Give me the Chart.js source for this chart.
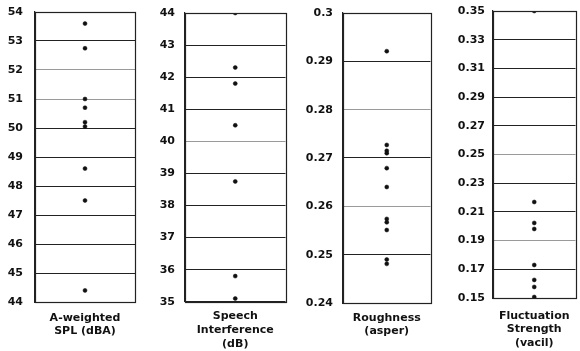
<!DOCTYPE html>
<html>
<head>
<meta charset="utf-8">
<script src="https://cdn.jsdelivr.net/npm/chart.js@4/dist/chart.umd.min.js"></script>
<style>
  html, body { margin: 0; padding: 0; background: #fff; }
  body { width: 580px; height: 351px; position: relative; overflow: hidden; }
  .panel { position: absolute; top: 0; height: 351px; }
</style>
</head>
<body>
<div class="panel" style="left:0px;width:140px"><canvas id="c1"></canvas></div>
<div class="panel" style="left:140px;width:150px"><canvas id="c2"></canvas></div>
<div class="panel" style="left:290px;width:145px"><canvas id="c3"></canvas></div>
<div class="panel" style="left:435px;width:145px"><canvas id="c4"></canvas></div>
<script>
// ---- data ----
const splValues = [53.6, 52.75, 51.0, 50.7, 50.2, 50.05, 48.6, 47.5, 44.4];
const speechValues = [44.0, 42.3, 41.8, 40.5, 38.75, 35.8, 35.1];
const roughnessValues = [0.2921, 0.2727, 0.2715, 0.2710, 0.2679, 0.2640, 0.2574, 0.2567, 0.2551, 0.2490, 0.2481];
const fluctuationValues = [0.35, 0.2169, 0.2023, 0.1981, 0.173, 0.1626, 0.1577, 0.1507];

const splTicks = [44, 45, 46, 47, 48, 49, 50, 51, 52, 53, 54];
const splTickLabels = ['44', '45', '46', '47', '48', '49', '50', '51', '52', '53', '54'];
const speechTicks = [35, 36, 37, 38, 39, 40, 41, 42, 43, 44];
const speechTickLabels = ['35', '36', '37', '38', '39', '40', '41', '42', '43', '44'];
const roughnessTicks = [0.24, 0.25, 0.26, 0.27, 0.28, 0.29, 0.3];
const roughnessTickLabels = ['0.24', '0.25', '0.26', '0.27', '0.28', '0.29', '0.3'];
const fluctuationTicks = [0.15, 0.17, 0.19, 0.21, 0.23, 0.25, 0.27, 0.29, 0.31, 0.33, 0.35];
const fluctuationTickLabels = ['0.15', '0.17', '0.19', '0.21', '0.23', '0.25', '0.27', '0.29', '0.31', '0.33', '0.35'];

const splTitle = ['A-weighted', 'SPL (dBA)'];
const speechTitle = ['Speech', 'Interference', '(dB)'];
const roughnessTitle = ['Roughness', '(asper)'];
const fluctuationTitle = ['Fluctuation', 'Strength', '(vacil)'];

// ---- drawing ----
const FONT = "'DejaVu Sans', sans-serif";

const frame = {
  id: 'frame',
  afterDatasetsDraw(chart) {
    const a = chart.chartArea, ctx = chart.ctx;
    ctx.save();
    ctx.strokeStyle = '#222';
    ctx.lineWidth = 1.2;
    ctx.strokeRect(Math.round(a.left) + 0.5, Math.round(a.top) + 0.5,
                   Math.round(a.right - a.left), Math.round(a.bottom - a.top));
    ctx.restore();
  }
};

function makePanel(id, values, ticks, labels, title, cfg) {
  const min = ticks[0], max = ticks[ticks.length - 1];
  new Chart(document.getElementById(id), {
    type: 'scatter',
    data: {
      datasets: [{
        data: values.map(v => ({ x: 0, y: v })),
        backgroundColor: '#111',
        borderColor: '#111',
        pointRadius: 2,
        pointBorderWidth: 0.5
      }]
    },
    options: {
      responsive: true,
      maintainAspectRatio: false,
      animation: false,
      events: [],
      layout: { padding: { top: cfg.top, right: cfg.right, bottom: cfg.bottom, left: 0 } },
      plugins: {
        legend: { display: false },
        tooltip: { enabled: false },
        title: {
          display: true,
          position: 'bottom',
          fullSize: false,
          text: title,
          color: '#111',
          font: { family: FONT, size: 11, weight: 'bold', lineHeight: 1.25 },
          padding: { top: cfg.titlePad, bottom: 0 }
        }
      },
      scales: {
        x: { display: false, min: -1, max: 1 },
        y: {
          min: min, max: max,
          afterFit(axis) {
            axis.width = cfg.axisWidth;
            axis.paddingTop = 0;
            axis.paddingBottom = 0;
          },
          afterBuildTicks(axis) { axis.ticks = ticks.map(v => ({ value: v })); },
          ticks: {
            padding: cfg.tickPad,
            color: '#111',
            font: { family: FONT, size: 11, weight: 'bold' },
            callback(value) {
              const i = ticks.findIndex(t => Math.abs(t - value) < 1e-9);
              return i >= 0 ? labels[i] : '';
            }
          },
          grid: {
            drawTicks: false,
            color: ctx => (cfg.faint.some(f => Math.abs(f - ctx.tick.value) < 1e-9) ? '#9a9a9a' : '#222'),
            lineWidth: 1
          },
          border: { display: true, color: '#222', width: 1.2 }
        }
      }
    },
    plugins: [frame]
  });
}

makePanel('c1', splValues, splTicks, splTickLabels, splTitle,
  { axisWidth: 35, right: 5, top: 12, bottom: 12.5, titlePad: 9, tickPad: 12, faint: [51, 52, 44] });
makePanel('c2', speechValues, speechTicks, speechTickLabels, speechTitle,
  { axisWidth: 45, right: 3, top: 13, bottom: 0, titlePad: 8, tickPad: 10, faint: [40] });
makePanel('c3', roughnessValues, roughnessTicks, roughnessTickLabels, roughnessTitle,
  { axisWidth: 53, right: 2, top: 13, bottom: 12.5, titlePad: 8, tickPad: 10, faint: [0.28, 0.26] });
makePanel('c4', fluctuationValues, fluctuationTicks, fluctuationTickLabels, fluctuationTitle,
  { axisWidth: 58, right: 3, top: 11, bottom: 0.75, titlePad: 11, tickPad: 8, faint: [0.19, 0.25] });
</script>
</body>
</html>
